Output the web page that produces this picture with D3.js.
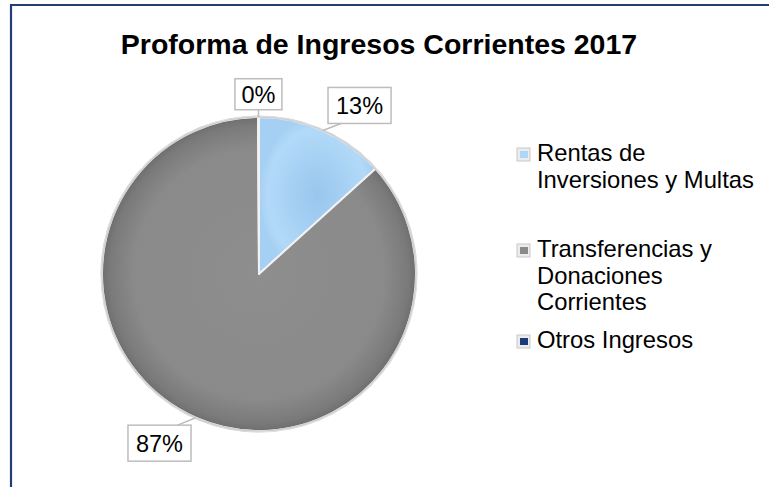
<!DOCTYPE html>
<html><head><meta charset="utf-8">
<script src="https://cdn.jsdelivr.net/npm/d3@7"></script>
<style>body{margin:0;background:#fff}svg{display:block}text{font-family:"Liberation Sans",Arial,sans-serif}</style>
</head><body>
<svg id="c" width="769" height="487"></svg>
<script>
const title = "Proforma de Ingresos Corrientes 2017";
const categories = ["Rentas de Inversiones y Multas", "Transferencias y Donaciones Corrientes", "Otros Ingresos"];
const legendLines = [["Rentas de", "Inversiones y Multas"], ["Transferencias y", "Donaciones", "Corrientes"], ["Otros Ingresos"]];
const values = [13.3, 86.6, 0.1];
const colors = ["#aed6f7", "#8a8a8a", "#1f3a7a"];

const W = 769, H = 487;
const svg = d3.select("#c");
const defs = svg.append("defs");

// frame
svg.append("path").attr("d", `M11,${H} L11,5 L${W},5`).attr("fill", "none")
  .attr("stroke", "#203f77").attr("stroke-width", 2.2);

svg.append("text").attr("x", 379).attr("y", 54).attr("text-anchor", "middle")
  .attr("font-size", 28.5).attr("font-weight", "bold").attr("fill", "#000").text(title);

const cx = 259, cy = 274, R = 157;
const total = d3.sum(values);
const pie = d3.pie().sort(null).value(d => d)(values);
const arc = d3.arc().innerRadius(0).outerRadius(R);

// gradients
const gGray = defs.append("radialGradient").attr("id", "gg").attr("cx", "50%").attr("cy", "50%").attr("r", "50%");
gGray.append("stop").attr("offset", "0%").attr("stop-color", "#8e8e8e");
gGray.append("stop").attr("offset", "80%").attr("stop-color", "#8a8a8a");
gGray.append("stop").attr("offset", "95%").attr("stop-color", "#7a7a7a");
gGray.append("stop").attr("offset", "100%").attr("stop-color", "#6e6e6e");
const gBlue = defs.append("radialGradient").attr("id", "gb").attr("cx", "50%").attr("cy", "50%").attr("r", "50%");
gBlue.append("stop").attr("offset", "0%").attr("stop-color", "#98c6ee");
gBlue.append("stop").attr("offset", "85%").attr("stop-color", "#b2d9f8");
gBlue.append("stop").attr("offset", "100%").attr("stop-color", "#a6d0f3");
const gNavy = defs.append("radialGradient").attr("id", "gn");
gNavy.append("stop").attr("offset", "0%").attr("stop-color", "#2a4a8f");
gNavy.append("stop").attr("offset", "100%").attr("stop-color", "#1a3068");
const fills = ["url(#gb)", "url(#gg)", "url(#gn)"];

const g = svg.append("g").attr("transform", `translate(${cx},${cy})`);
g.append("circle").attr("r", R + 1.5).attr("fill", "#d0d0d0");
g.selectAll("path.s").data(pie).join("path").attr("class", "s")
  .attr("d", arc).attr("fill", (d, i) => fills[i])
  .attr("stroke", "#f2f2f2").attr("stroke-width", 2).attr("stroke-linejoin", "round");
g.append("circle").attr("r", R).attr("fill", "none").attr("stroke", "#cfcfcf").attr("stroke-width", 1.5);

// data labels
const labelAngleOffset = [0.12, 0.117, 0];
const labelRadius = [1.25, 1.25, 1.145];
const fmt = v => Math.round(v / total * 100) + "%";
pie.forEach((d, i) => {
  const mid = (d.startAngle + d.endAngle) / 2;
  const a = mid + labelAngleOffset[i];
  const bx = Math.sin(a) * R * labelRadius[i];
  const by = -Math.cos(a) * R * labelRadius[i];
  const txt = fmt(d.value);
  const t = g.append("text").attr("x", bx).attr("y", by + 8.5).attr("text-anchor", "middle")
    .attr("font-size", 23.5).attr("fill", "#000").text(txt);
  const tw = t.node().getComputedTextLength();
  const bw = tw + (i === 2 ? 13 : 16), bh = i === 2 ? 31 : 36;
  const x0 = bx - bw / 2, y0 = by - bh / 2;
  g.insert("rect", "text").attr("x", x0).attr("y", y0).attr("width", bw).attr("height", bh)
    .attr("fill", "#fff").attr("stroke", "#bdbdbd").attr("stroke-width", 1.5);
  const px = Math.sin(mid) * R, py = -Math.cos(mid) * R;
  const ey = py > by ? y0 + bh : y0;
  const ex = Math.max(x0 + 8, Math.min(x0 + bw - 8, px + (bx - px) * 0.5));
  g.append("line").attr("x1", px).attr("y1", py).attr("x2", ex).attr("y2", ey)
    .attr("stroke", "#bdbdbd").attr("stroke-width", 1.5);
});

// legend
const lx = 517, ly0 = [161, 257, 348], lh = 26.5;
const lg = svg.append("g");
legendLines.forEach((lines, i) => {
  const y = ly0[i];
  lg.append("rect").attr("x", lx).attr("y", y - 13).attr("width", 13).attr("height", 13)
    .attr("fill", "#ececec").attr("stroke", "#c8c8c8").attr("stroke-width", 1);
  lg.append("rect").attr("x", lx + 3).attr("y", y - 10).attr("width", 8).attr("height", 7)
    .attr("fill", colors[i]);
  lines.forEach((ln, k) => {
    lg.append("text").attr("x", lx + 20).attr("y", y + k * lh).attr("font-size", 23.8)
      .attr("fill", "#000").text(ln);
  });
});
</script>
</body></html>
